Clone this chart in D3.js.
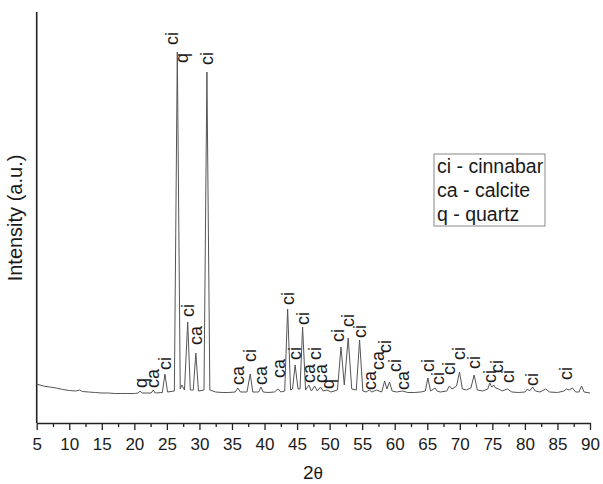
<!DOCTYPE html>
<html>
<head>
<meta charset="utf-8">
<script src="https://cdn.jsdelivr.net/npm/d3@7"></script>
<style>
body { margin: 0; background: #fff; }
text { font-family: "Liberation Sans", Arial, sans-serif; fill: #1a1a1a; }
</style>
</head>
<body>
<svg id="chart" width="603" height="484"></svg>
<script>
// diffraction pattern, [2theta, intensity]
var xrd = [
  [5, 39], [6, 37], [7, 36], [8, 35], [9, 33.5], [10, 32.5], [11, 32], [11.6, 33],
  [12, 31.5], [13, 31], [14, 30.5], [15, 30], [16, 30], [17, 29.5], [18, 29.5],
  [19, 29.5], [20, 29.5], [20.6, 30], [20.9, 32], [21.2, 30], [22, 30], [22.6, 30],
  [22.9, 33], [23.2, 30], [24.3, 30.5], [24.7, 49], [25.1, 31], [26.15, 32],
  [26.6, 371], [27.05, 34], [27.3, 38], [27.7, 33], [28.2, 101], [28.6, 33],
  [29.05, 33], [29.45, 70], [29.85, 32], [30.7, 33], [31.15, 351], [31.6, 33],
  [32.5, 31], [33.5, 30.5], [34.5, 30.5], [35.5, 31], [35.9, 35], [36.3, 31],
  [37.3, 31], [37.8, 49], [38.2, 31], [39.1, 31], [39.45, 36], [39.8, 31],
  [40.5, 30.5], [41.5, 31], [42.1, 34], [42.5, 31], [43.1, 32], [43.55, 114],
  [44, 33], [44.3, 34], [44.7, 58], [45.15, 34], [45.45, 34], [45.85, 96],
  [46.3, 33], [46.8, 38], [47.2, 32], [47.7, 37], [48.1, 32], [48.6, 36],
  [49, 32], [49.6, 33], [50.2, 31], [51.2, 33], [51.75, 76], [52.25, 38],
  [52.85, 85], [53.4, 34], [54.1, 33], [54.6, 83], [55.1, 32], [55.6, 31],
  [56.1, 33], [56.5, 31], [57.2, 33], [58, 31], [58.45, 42], [58.8, 34],
  [59.2, 41], [59.6, 32], [60.3, 31], [61.2, 32], [62, 30.5], [63, 30.5],
  [64, 31], [64.7, 32], [65.1, 45], [65.5, 32], [66.2, 35], [66.5, 32], [67, 31],
  [68, 32], [68.4, 37], [68.8, 34], [69.5, 37], [69.95, 51], [70.4, 34], [71, 33],
  [71.7, 35], [72.2, 48], [72.7, 33], [73.5, 32], [74.3, 34], [74.6, 40],
  [74.9, 36], [75.2, 38], [75.5, 35], [76, 34], [76.5, 32], [77.3, 34], [78, 31],
  [79, 30.5], [80, 31], [80.4, 34], [80.7, 32], [81.2, 36], [81.6, 32], [82.3, 31],
  [83.2, 34], [83.8, 31], [85, 30.5], [86, 32], [86.4, 34], [86.8, 33], [87.3, 35],
  [87.8, 31], [88.3, 31], [88.7, 37], [89.1, 31], [90, 30]
];

// phase labels above the peaks
var labelAngles = [20.9, 22.8, 24.7, 25.75, 27.3, 28.2, 29.45, 31.1, 35.8, 37.7, 39.4, 42.1,
  43.55, 44.6, 45.85, 46.7, 47.7, 48.6, 49.6, 51.15, 52.7, 54.6, 56.1, 57.3, 58.5, 60.0,
  61.2, 65.1, 66.5, 68.3, 69.8, 72.1, 74.5, 75.7, 77.3, 81.0, 86.3];
var labelNames = ["q", "ca", "ci", "ci", "q", "ci", "ca", "ci", "ca", "ci", "ca", "ca",
  "ci", "ci", "ci", "ca", "ci", "ca", "q", "ci", "ci", "ci", "ca", "ca", "ci", "ci",
  "ca", "ci", "ci", "ci", "ci", "ci", "ci", "ci", "ci", "ci", "ci"];
var labelLevels = [35, 35, 53, 378, 360, 106, 78, 358, 38, 61, 38, 45,
  118, 63, 98, 40, 63, 40, 34, 81, 96, 85, 33, 53, 70, 51,
  33, 51, 38, 48, 63, 54, 40, 50, 40, 37, 43];

var xTickValues = [5, 10, 15, 20, 25, 30, 35, 40, 45, 50, 55, 60, 65, 70, 75, 80, 85, 90];
var legendLines = ["ci - cinnabar", "ca - calcite", "q - quartz"];

var svg = d3.select("#chart");

var x = d3.scaleLinear().domain([5, 90]).range([36.7, 590]);
var y = d3.scaleLinear().domain([0, 411]).range([423, 12]);

// minor ticks
svg.append("g")
  .attr("transform", "translate(0,423)")
  .call(d3.axisBottom(x).tickValues(d3.range(7.5, 90, 5)).tickSize(4).tickFormat(""))
  .call(g => g.select(".domain").remove())
  .selectAll("line").attr("stroke", "#222").attr("stroke-width", 1.3);

var xAxis = svg.append("g")
  .attr("transform", "translate(0,423)")
  .call(d3.axisBottom(x).tickValues(xTickValues).tickSize(7).tickSizeOuter(0).tickPadding(8));
xAxis.select(".domain").attr("stroke", "#222").attr("stroke-width", 1.6);
xAxis.selectAll("line").attr("stroke", "#222").attr("stroke-width", 1.3);
xAxis.selectAll("text")
  .style("font-size", "17px")
  .style("font-family", "'Liberation Sans', Arial, sans-serif")
  .attr("fill", "#1a1a1a");

// left axis, no ticks
svg.append("line")
  .attr("x1", x(5)).attr("x2", x(5))
  .attr("y1", y(411)).attr("y2", y(0))
  .attr("stroke", "#222")
  .attr("stroke-width", 1.6);

var line = d3.line()
  .x(d => x(d[0]))
  .y(d => y(d[1]));

svg.append("path")
  .datum(xrd)
  .attr("d", line)
  .attr("fill", "none")
  .attr("stroke", "#555")
  .attr("stroke-width", 1);

svg.selectAll("text.peak")
  .data(labelAngles)
  .enter()
  .append("text")
  .attr("class", "peak")
  .attr("transform", (d, i) => "translate(" + x(d) + "," + y(labelLevels[i]) + ") rotate(-90)")
  .attr("dy", "0.36em")
  .style("font-size", "18px")
  .text((d, i) => labelNames[i]);

// legend
svg.append("rect")
  .attr("x", 434).attr("y", 154)
  .attr("width", 111).attr("height", 72)
  .attr("fill", "none")
  .attr("stroke", "#888")
  .attr("stroke-width", 1);

svg.selectAll("text.legend")
  .data(legendLines)
  .enter()
  .append("text")
  .attr("class", "legend")
  .attr("x", 437)
  .attr("y", (d, i) => 173 + i * 24)
  .style("font-size", "19.5px")
  .text(d => d);

// axis titles
svg.append("text")
  .attr("transform", "translate(22,218) rotate(-90)")
  .attr("text-anchor", "middle")
  .style("font-size", "20px")
  .text("Intensity (a.u.)");

var xt = svg.append("text")
  .attr("x", 313)
  .attr("y", 479)
  .attr("text-anchor", "middle")
  .style("font-size", "19px");
xt.append("tspan").text("2");
xt.append("tspan").style("font-size", "17px").text("θ");
</script>
</body>
</html>
